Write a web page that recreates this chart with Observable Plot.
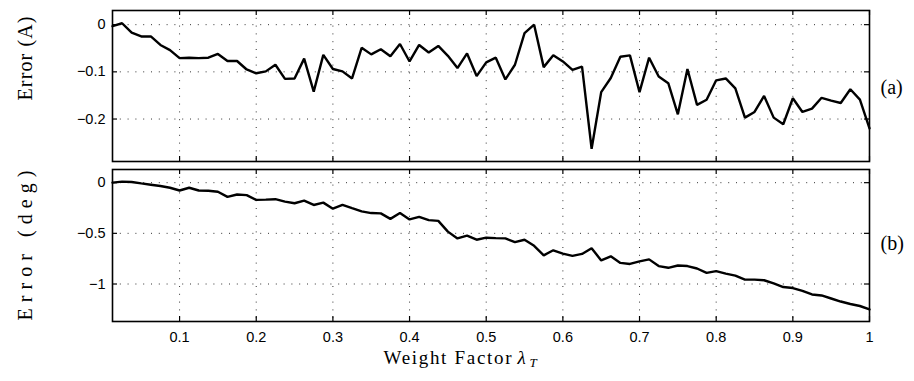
<!DOCTYPE html>
<html>
<head>
<meta charset="utf-8">
<script src="https://cdn.jsdelivr.net/npm/d3@7"></script>
<script src="https://cdn.jsdelivr.net/npm/@observablehq/plot@0.6"></script>
<style>
  html, body { margin: 0; padding: 0; background: #fff; }
  #chart svg { display: block; }
</style>
</head>
<body>
<div id="chart"></div>
<script>
// Weight factor λ_T samples
const lambdaT = [
  0.0125, 0.025, 0.0375, 0.05, 0.0625, 0.075, 0.0875, 0.1, 0.1125, 0.125,
  0.1375, 0.15, 0.1625, 0.175, 0.1875, 0.2, 0.2125, 0.225, 0.2375, 0.25,
  0.2625, 0.275, 0.2875, 0.3, 0.3125, 0.325, 0.3375, 0.35, 0.3625, 0.375,
  0.3875, 0.4, 0.4125, 0.425, 0.4375, 0.45, 0.4625, 0.475, 0.4875, 0.5,
  0.5125, 0.525, 0.5375, 0.55, 0.5625, 0.575, 0.5875, 0.6, 0.6125, 0.625,
  0.6375, 0.65, 0.6625, 0.675, 0.6875, 0.7, 0.7125, 0.725, 0.7375, 0.75,
  0.7625, 0.775, 0.7875, 0.8, 0.8125, 0.825, 0.8375, 0.85, 0.8625, 0.875,
  0.8875, 0.9, 0.9125, 0.925, 0.9375, 0.95, 0.9625, 0.975, 0.9875, 1
];
// (a) current error (A)
const errorA = [
  -0.003, 0.003, -0.017, -0.025, -0.025, -0.043, -0.054, -0.071, -0.070, -0.071,
  -0.070, -0.062, -0.077, -0.077, -0.095, -0.103, -0.099, -0.085, -0.115, -0.114,
  -0.072, -0.142, -0.064, -0.094, -0.099, -0.114, -0.049, -0.063, -0.052, -0.067,
  -0.041, -0.078, -0.043, -0.059, -0.045, -0.066, -0.092, -0.061, -0.109, -0.080,
  -0.070, -0.116, -0.085, -0.018, 0.000, -0.090, -0.065, -0.078, -0.096, -0.089,
  -0.263, -0.143, -0.113, -0.068, -0.065, -0.143, -0.070, -0.110, -0.124, -0.190,
  -0.094, -0.170, -0.159, -0.118, -0.114, -0.135, -0.197, -0.185, -0.151, -0.197,
  -0.211, -0.156, -0.185, -0.178, -0.155, -0.161, -0.166, -0.137, -0.159, -0.220
];
// (b) angle error (deg)
const errorDeg = [
  0.000, 0.010, 0.007, -0.007, -0.020, -0.033, -0.050, -0.077, -0.050, -0.077,
  -0.080, -0.090, -0.140, -0.117, -0.123, -0.170, -0.167, -0.163, -0.187, -0.203,
  -0.177, -0.220, -0.197, -0.257, -0.220, -0.252, -0.283, -0.300, -0.303, -0.357,
  -0.300, -0.363, -0.337, -0.370, -0.377, -0.483, -0.550, -0.523, -0.563, -0.543,
  -0.547, -0.550, -0.587, -0.563, -0.623, -0.717, -0.667, -0.700, -0.723, -0.703,
  -0.647, -0.767, -0.727, -0.792, -0.802, -0.777, -0.757, -0.823, -0.840, -0.817,
  -0.823, -0.847, -0.890, -0.873, -0.897, -0.917, -0.957, -0.957, -0.963, -0.993,
  -1.030, -1.040, -1.067, -1.103, -1.113, -1.143, -1.173, -1.197, -1.217, -1.250
];
const xTicks = [0.1, 0.2, 0.3, 0.4, 0.5, 0.6, 0.7, 0.8, 0.9, 1];
const yTicksA = [-0.2, -0.1, 0];
const yTicksDeg = [-1, -0.5, 0];
const xDomain = [0.0125, 1];
const yDomainA = [-0.29, 0.03];
const yDomainDeg = [-1.37, 0.13];
const yLabelA = "Error (A)";
const yLabelDeg = "Error (deg)";
const xLabel = "Weight Factor";

const serif = "'Liberation Serif', 'Times New Roman', serif";
const sans = "'Liberation Sans', Arial, Helvetica, sans-serif";
const fmt = d3.format("~g");

const dataA = lambdaT.map((x, i) => ({x, y: errorA[i]}));
const dataDeg = lambdaT.map((x, i) => ({x, y: errorDeg[i]}));

function panel({data, yDomain, yTicks, height, marginTop, marginBottom, yLabel, yLabelDy, tag, tagDy, showX}) {
  const H = height - marginTop - marginBottom;
  const grid = {stroke: "#000", strokeOpacity: 0.8, strokeWidth: 1, strokeDasharray: "1,6.8"};
  const marks = [
    Plot.gridX(xTicks.filter(d => d < 1), grid),
    Plot.gridY(yTicks, grid),
    // inward tick marks on all four sides
    Plot.tickX(xTicks, {x: d => d, insetBottom: H - 5, stroke: "#000", strokeWidth: 1.2}),
    Plot.tickX(xTicks, {x: d => d, insetTop: H - 5, stroke: "#000", strokeWidth: 1.2}),
    Plot.tickY(yTicks, {y: d => d, insetRight: 757 - 5, stroke: "#000", strokeWidth: 1.2}),
    Plot.tickY(yTicks, {y: d => d, insetLeft: 757 - 5, stroke: "#000", strokeWidth: 1.2}),
    Plot.axisY(yTicks, {tickSize: 0, tickPadding: 7, fontSize: 14.5, tickFormat: fmt, label: null}),
    Plot.line(data, {x: "x", y: "y", stroke: "#000", strokeWidth: 2.4, strokeLinejoin: "miter"}),
    Plot.frame({stroke: "#000", strokeWidth: 1.6}),
    Plot.text([yLabel], {text: d => d, frameAnchor: "top-left", dx: -81, dy: yLabelDy, rotate: -90,
      textAnchor: "middle", lineAnchor: "bottom", fontSize: 20, fontFamily: serif, fill: "#000"}),
    Plot.text([tag], {text: d => d, frameAnchor: "right", dx: 11, dy: tagDy, textAnchor: "start",
      lineAnchor: "middle", fontSize: 20, fontFamily: serif, fill: "#000"})
  ];
  if (showX) {
    marks.push(
      Plot.axisX(xTicks, {tickSize: 0, tickPadding: 10.5, fontSize: 14.5, tickFormat: fmt, label: null}),
      Plot.text([xLabel], {text: d => d, frameAnchor: "bottom", dx: 20.5, dy: 42, textAnchor: "end",
        lineAnchor: "bottom", fontSize: 19, fontFamily: serif, fill: "#000"}),
      Plot.text(["λ"], {text: d => d, frameAnchor: "bottom", dx: 26.5, dy: 42, textAnchor: "start",
        lineAnchor: "bottom", fontSize: 19, fontStyle: "italic", fontFamily: serif, fill: "#000"}),
      Plot.text(["T"], {text: d => d, frameAnchor: "bottom", dx: 38.5, dy: 45, textAnchor: "start",
        lineAnchor: "bottom", fontSize: 13, fontStyle: "italic", fontFamily: serif, fill: "#000"})
    );
  }
  return Plot.plot({
    width: 914,
    height,
    marginLeft: 112,
    marginRight: 45,
    marginTop,
    marginBottom,
    style: {background: "#fff", fontFamily: sans, fontSize: "14px", overflow: "visible", color: "#000"},
    x: {domain: xDomain, axis: null},
    y: {domain: yDomain, axis: null},
    marks
  });
}

const panelTop = panel({data: dataA, yDomain: yDomainA, yTicks: yTicksA, height: 165, marginTop: 10, marginBottom: 4,
  yLabel: yLabelA, yLabelDy: 48, tag: "(a)", tagDy: 2, showX: false});
const panelBottom = panel({data: dataDeg, yDomain: yDomainDeg, yTicks: yTicksDeg, height: 216, marginTop: 4, marginBottom: 60,
  yLabel: yLabelDeg, yLabelDy: 76, tag: "(b)", tagDy: -2, showX: true});

const chart = document.getElementById("chart");
chart.appendChild(panelTop);
chart.appendChild(panelBottom);

// spread the serif (Computer Modern-like) labels to the reference lengths; size tick labels
const stretch = {[yLabelA]: 84, [yLabelDeg]: 150, [xLabel]: 128};
d3.selectAll("#chart text").each(function() {
  const t = this.textContent;
  if (stretch[t]) {
    this.setAttribute("textLength", stretch[t]);
    this.setAttribute("lengthAdjust", "spacing");
  } else if (/^[−\-]?[0-9.]+$/.test(t)) {
    this.style.fontSize = "14.5px";
  }
});
</script>
</body>
</html>
